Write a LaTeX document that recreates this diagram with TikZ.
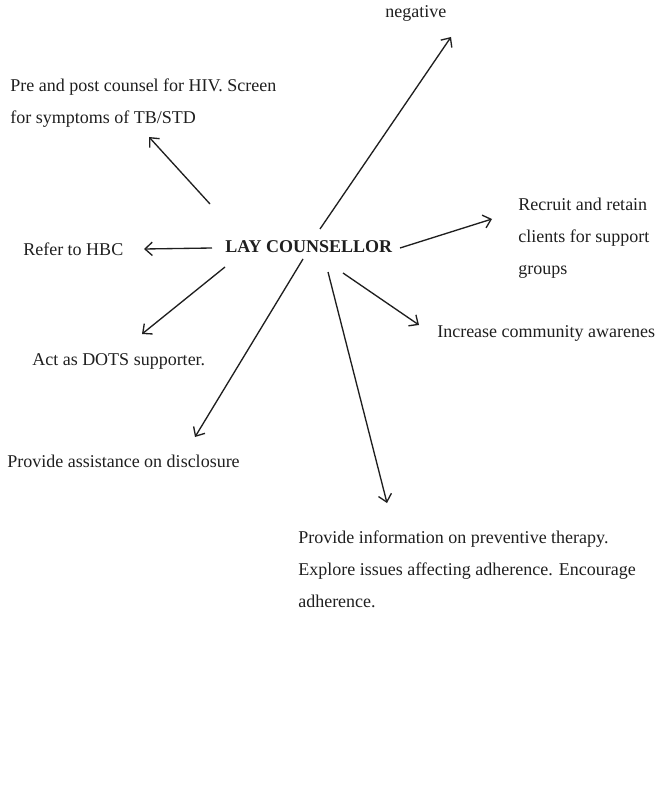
\documentclass[tikz,border=0pt]{standalone}
\usepackage{fontspec}
\setmainfont{Liberation Serif}
\usepackage{tikz}
\usetikzlibrary{arrows.meta,positioning}
\definecolor{ink}{HTML}{1F1F1F}
\tikzset{
  txt/.style={inner sep=0pt,align=left,text=ink,
              font=\fontsize{13.5}{24}\selectfont},
  hub/.style={txt,font=\fontsize{13.5}{24}\selectfont\bfseries},
  arr/.style={-{Straight Barb[length=5.5pt,width=10pt]},line width=1pt,ink},
}

\begin{document}
\begin{tikzpicture}[x=0.75pt,y=-0.75pt]
  \useasboundingbox (0,0) rectangle (654,795);

  \node[hub,anchor=base west] (lay) at (225,252) {LAY COUNSELLOR};

  \node[txt,anchor=base west] (neg) at (385,18) {negative};
  \node[txt,anchor=north west] (pre) at (10,78.5)
    {Pre and post counsel for HIV. Screen\\for symptoms of TB/STD};
  \node[txt,anchor=north west] (rec) at (518,197.5)
    {Recruit and retain\\clients for support\\groups};
  \node[txt,anchor=base west] (hbc) at (23,255) {Refer to HBC};
  \node[txt,anchor=base west] (dots) at (32,365) {Act as DOTS supporter.};
  \node[txt,anchor=base west] (inc) at (437,337) {Increase community awarenes};
  \node[txt,anchor=base west] (disc) at (7,467) {Provide assistance on disclosure};
  \node[txt,anchor=north west] (ther) at (298,530.5)
    {Provide information on preventive therapy.\\Explore issues affecting adherence. Encourage\\adherence.};

  % arrow ends
  \coordinate (lay-pre)  at (210,204); \coordinate (to-pre)  at (149,137);
  \coordinate (lay-neg)  at (320,229); \coordinate (to-neg)  at (451,37);
  \coordinate (lay-rec)  at (400,248); \coordinate (to-rec)  at (492,219);
  \coordinate (lay-hbc)  at (212,248); \coordinate (to-hbc)  at (144,249);
  \coordinate (lay-dots) at (225,267); \coordinate (to-dots) at (142,334);
  \coordinate (lay-disc) at (303,259); \coordinate (to-disc) at (195,437);
  \coordinate (lay-ther) at (328,272); \coordinate (to-ther) at (387,503);
  \coordinate (lay-inc)  at (343,273); \coordinate (to-inc)  at (419,325);

  \foreach \t in {pre,neg,rec,hbc,dots,disc,ther,inc}
    \draw[arr] (lay-\t) -- (to-\t);
\end{tikzpicture}
\end{document}
